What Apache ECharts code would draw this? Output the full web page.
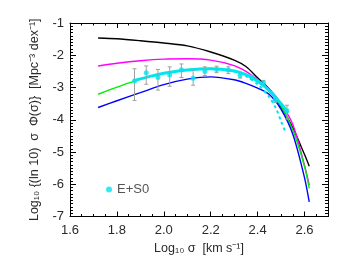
<!DOCTYPE html>
<html><head><meta charset="utf-8">
<script src="https://cdn.jsdelivr.net/npm/echarts@6/dist/echarts.min.js"></script>
<style>html,body{margin:0;padding:0;background:#fff}#c{width:349px;height:262px}</style>
</head><body><div id="c"></div>
<script>
// model curves
const xModel = [1.72, 1.8, 1.9, 2.0, 2.1, 2.2, 2.3, 2.35, 2.4, 2.45, 2.5, 2.55, 2.6, 2.62];
const blackY = [-1.465, -1.49, -1.55, -1.62, -1.71, -1.90, -2.15, -2.35, -2.70, -3.05, -3.60, -4.25, -5.08, -5.44];
const magentaY = [-2.335, -2.25, -2.17, -2.12, -2.11, -2.15, -2.32, -2.50, -2.76, -3.05, -3.50, -4.15, -5.42, -6.03];
const greenY = [-3.21, -2.99, -2.74, -2.56, -2.45, -2.41, -2.50, -2.61, -2.83, -3.12, -3.58, -4.32, -5.45, -6.13];
const blueY = [-3.62, -3.41, -3.16, -2.91, -2.74, -2.67, -2.76, -2.87, -3.02, -3.22, -3.68, -4.45, -5.80, -6.55];
// cyan fits
const xCyan = [1.87, 1.95, 2.0, 2.1, 2.2, 2.3, 2.35, 2.4, 2.45, 2.5, 2.53];
const cyanY = [-2.79, -2.64, -2.56, -2.46, -2.42, -2.49, -2.60, -2.80, -3.10, -3.50, -3.78];
const xCyanDash = [2.3, 2.35, 2.4, 2.45, 2.48, 2.5, 2.52];
const cyanDashY = [-2.50, -2.65, -2.90, -3.30, -3.68, -4.05, -4.40];
// data points E+S0
const xPts = [1.875, 1.925, 1.975, 2.025, 2.075, 2.125, 2.175, 2.225, 2.275, 2.325, 2.375, 2.425, 2.475, 2.525];
const yPts = [-2.80, -2.54, -2.69, -2.61, -2.45, -2.71, -2.50, -2.44, -2.46, -2.63, -2.68, -2.85, -3.39, -3.72];
const yHi = [-2.42, -2.33, -2.44, -2.36, -2.27, -2.46, -2.36, -2.34, -2.36, -2.56, -2.62, -2.78, -3.32, -3.55];
const yLo = [-3.40, -2.90, -3.08, -2.96, -2.69, -2.93, -2.63, -2.54, -2.57, -2.71, -2.75, -2.92, -3.46, -3.98];
// axes
const xTicks = [1.6, 1.8, 2.0, 2.2, 2.4, 2.6];
const yTicks = [-7, -6, -5, -4, -3, -2, -1];
const legendName = 'E+S0';

const zip = (xs, ys) => xs.map((x, i) => [x, ys[i]]);
const FONT = 'Liberation Sans';
const TXT = '#2a2a2a';

function axisCommon(extra) {
  return Object.assign({
    axisLine: { show: true, onZero: false, lineStyle: { color: '#000', width: 1 } },
    splitLine: { show: false },
    axisTick: { show: true, inside: true, length: 5, lineStyle: { color: '#000' } },
    minorTick: { show: true, length: 2.5, lineStyle: { color: '#000' } },
    axisLabel: { show: true, fontFamily: FONT, fontSize: 13, color: TXT }
  }, extra);
}

const chart = echarts.init(document.getElementById('c'), null, { renderer: 'canvas' });
const lineS = (data, color, width, z, extra) => Object.assign({
  type: 'line', data, xAxisIndex: 0, yAxisIndex: 0, showSymbol: false, symbol: 'none',
  smooth: 0.3, lineStyle: { color, width }, z, silent: true, animation: false
}, extra || {});

chart.setOption({
  animation: false,
  grid: { left: 70, right: 21, top: 23, bottom: 45.5 },
  legend: {
    data: [{ name: legendName, icon: 'circle' }],
    left: 101, top: 178, itemWidth: 6, itemHeight: 6, itemGap: 5,
    textStyle: { fontFamily: FONT, fontSize: 13, color: '#555' }
  },
  xAxis: [
    axisCommon({
      type: 'value', min: 1.6, max: 2.7, interval: 0.2, position: 'bottom',
      minorTick: { show: true, splitNumber: 4, length: 2.5, lineStyle: { color: '#000' } },
      axisLabel: { fontFamily: FONT, fontSize: 13, color: TXT, margin: 7,
        formatter: v => xTicks.some(t => Math.abs(t - v) < 1e-6) ? v.toFixed(1) : '' },
      name: 'Log₁₀ σ  [km s⁻¹]', nameLocation: 'middle', nameGap: 26,
      nameTextStyle: { fontFamily: FONT, fontSize: 12.5, color: TXT }
    }),
    axisCommon({
      type: 'value', min: 1.6, max: 2.7, interval: 0.2, position: 'top',
      minorTick: { show: true, splitNumber: 4, length: 2.5, lineStyle: { color: '#000' } },
      axisLabel: { show: false }
    })
  ],
  yAxis: [
    axisCommon({
      type: 'value', min: -7, max: -1, interval: 1, position: 'left',
      axisTick: { show: true, inside: true, length: 6, lineStyle: { color: '#000' } },
      minorTick: { show: true, splitNumber: 10, length: 3, lineStyle: { color: '#000' } },
      axisLabel: { fontFamily: FONT, fontSize: 13, color: TXT, margin: 6,
        formatter: v => yTicks.includes(Math.round(v)) ? String(Math.round(v)) : '' },
      name: 'Log₁₀ {(ln 10)  σ  Φ(σ)}  [Mpc⁻³ dex⁻¹]', nameLocation: 'middle', nameGap: 27,
      nameTextStyle: { fontFamily: FONT, fontSize: 12.5, color: TXT }
    }),
    axisCommon({
      type: 'value', min: -7, max: -1, interval: 1, position: 'right',
      axisTick: { show: true, inside: true, length: 6, lineStyle: { color: '#000' } },
      minorTick: { show: true, splitNumber: 10, length: 3, lineStyle: { color: '#000' } },
      axisLabel: { show: false }
    })
  ],
  series: [
    lineS(zip(xModel, blackY), '#000000', 1.4, 2),
    lineS(zip(xModel, magentaY), '#ff00ff', 1.4, 3),
    lineS(zip(xModel, greenY), '#00ee00', 1.4, 4),
    lineS(zip(xModel, blueY), '#0000ff', 1.4, 5),
    lineS(zip(xCyan, cyanY), '#00e5ee', 3, 6),
    lineS(zip(xCyanDash, cyanDashY), '#00e5ee', 2, 6, { lineStyle: { color: '#00e5ee', width: 2, type: [3, 3] } }),
    {
      type: 'custom', z: 7, silent: true, animation: false,
      data: xPts.map((x, i) => [x, yLo[i], yHi[i]]),
      renderItem: (params, api) => {
        const x = api.value(0);
        const lo = api.coord([x, api.value(1)]);
        const hi = api.coord([x, api.value(2)]);
        const w = 2;
        const st = { stroke: '#a0a0a0', lineWidth: 1 };
        return { type: 'group', children: [
          { type: 'line', shape: { x1: lo[0], y1: lo[1], x2: hi[0], y2: hi[1] }, style: st },
          { type: 'line', shape: { x1: lo[0] - w, y1: lo[1], x2: lo[0] + w, y2: lo[1] }, style: st },
          { type: 'line', shape: { x1: hi[0] - w, y1: hi[1], x2: hi[0] + w, y2: hi[1] }, style: st }
        ] };
      }
    },
    {
      type: 'scatter', name: legendName, data: zip(xPts, yPts), symbol: 'circle', symbolSize: 5,
      itemStyle: { color: '#00e5ee' }, z: 8, silent: true, animation: false
    }
  ]
});
</script></body></html>
